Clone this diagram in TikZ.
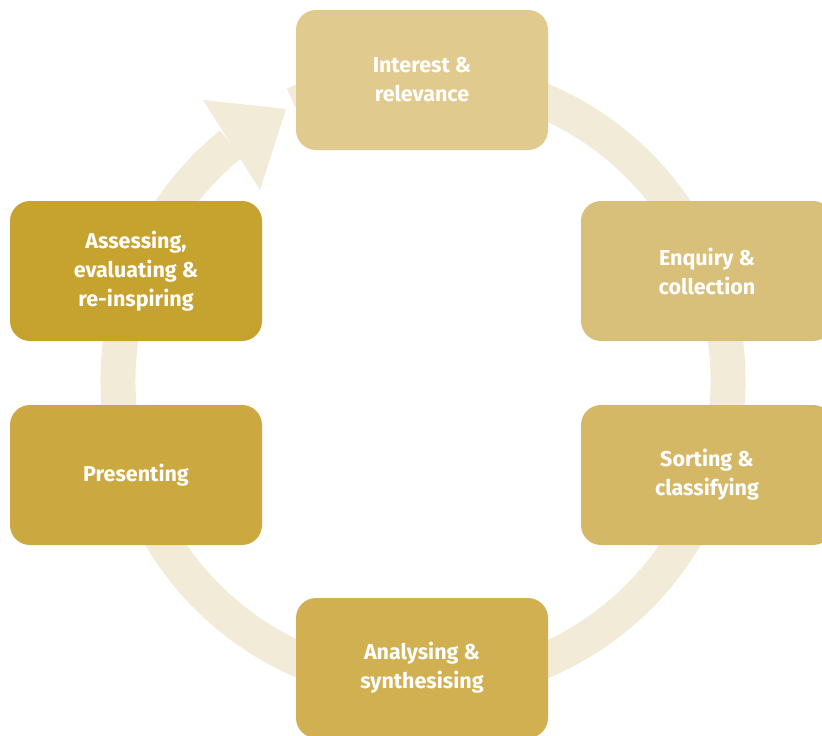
\documentclass[tikz,border=0pt]{standalone}
\usepackage{fontspec}
\setmainfont{Fira Sans}
\definecolor{ringcream}{HTML}{F2EBD8}
\definecolor{stageA}{HTML}{E0CA8E}
\definecolor{stageB}{HTML}{D9C07A}
\definecolor{stageC}{HTML}{D5B865}
\definecolor{stageD}{HTML}{D1B052}
\definecolor{stageE}{HTML}{CBA840}
\definecolor{stageF}{HTML}{C6A22F}
\tikzset{
  stage/.style={rounded corners=20pt, minimum width=252pt, minimum height=140pt,
    inner sep=0pt, text=white, align=center,
    font=\fontsize{21.5}{29}\selectfont\bfseries}
}

\begin{document}
\begin{tikzpicture}[x=1pt,y=-1pt]
\useasboundingbox (0,0) rectangle (822,736);
% Cycle ring with arrowhead
\coordinate (centre) at (423,381);
\draw[ringcream, line width=35pt] ([shift={(-115:305)}]centre) arc[start angle=-115, end angle=231, radius=305];
\coordinate (tipA) at (203,100);
\coordinate (tipB) at (286,109);
\coordinate (tipC) at (260,190);
\fill[ringcream] (tipA) -- (tipB) -- (tipC) -- cycle;

% Stages
\node[stage, fill=stageA] (interest) at (422,80) {Interest \&\\relevance};
\node[stage, fill=stageB] (enquiry) at (707,271) {Enquiry \&\\collection};
\node[stage, fill=stageC] (sorting) at (707,475) {Sorting \&\\classifying};
\node[stage, fill=stageD] (analysing) at (422,668) {Analysing \&\\synthesising};
\node[stage, fill=stageE] (presenting) at (136,475) {Presenting};
\node[stage, fill=stageF] (assessing) at (136,271) {Assessing,\\evaluating \&\\re-inspiring};
\end{tikzpicture}
\end{document}
